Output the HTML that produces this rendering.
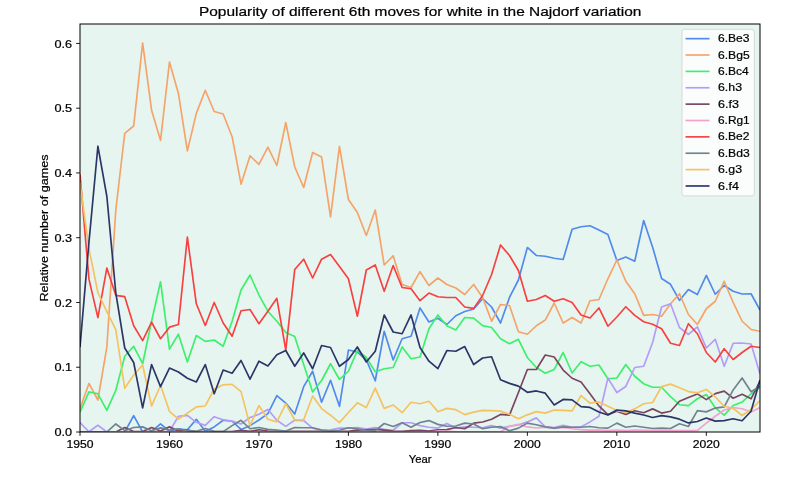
<!DOCTYPE html>
<html><head><meta charset="utf-8"><title>Najdorf 6th moves</title>
<style>html,body{margin:0;padding:0;background:#fff;}body{width:800px;height:480px;overflow:hidden;}svg{display:block;will-change:transform;}text{font-family:"Liberation Sans", sans-serif;fill:#000;stroke:#000;stroke-width:0.22px;}</style></head><body>
<svg width="800" height="480" viewBox="0 0 800 480">
<rect x="0" y="0" width="800" height="480" fill="#ffffff"/>
<rect x="80" y="24" width="680" height="408" fill="#e6f5ef"/>
<clipPath id="c"><rect x="80" y="24" width="680" height="408"/></clipPath>
<g clip-path="url(#c)" fill="none" stroke-width="1.67" stroke-linejoin="round" stroke-linecap="butt">
<polyline stroke="#518aec" points="80.00,432.00 88.95,432.00 97.89,432.00 106.84,432.00 115.79,432.00 124.74,432.00 133.68,415.62 142.63,432.00 151.58,431.35 160.53,423.78 169.47,431.35 178.42,429.02 187.37,429.73 196.32,419.37 205.26,431.35 214.21,426.88 223.16,420.28 232.11,421.25 241.05,429.41 250.00,425.65 258.95,420.02 267.89,413.67 276.84,395.60 285.79,403.12 294.74,414.00 303.68,386.67 312.63,371.25 321.58,402.21 330.53,380.32 339.47,406.35 348.42,350.01 357.37,352.02 366.32,359.98 375.26,380.77 384.21,331.23 393.16,359.98 402.11,338.74 411.05,336.22 420.00,307.98 428.95,321.97 437.89,318.28 446.84,324.50 455.79,315.75 464.74,311.54 473.68,308.95 482.63,298.72 491.58,307.01 500.53,323.01 509.47,297.49 518.42,280.00 527.37,247.49 536.32,255.46 545.26,256.24 554.21,258.24 563.16,259.47 572.11,229.23 581.05,226.77 590.00,225.73 598.95,230.01 607.89,234.48 616.84,260.51 625.79,257.01 634.74,261.22 643.68,220.49 652.63,247.23 661.58,278.51 670.53,284.28 679.47,300.47 688.42,289.52 697.37,294.51 706.32,275.47 715.26,294.25 724.21,285.51 733.16,291.27 742.11,293.99 751.05,293.73 760.00,309.99"/>
<polyline stroke="#f6a369" points="80.00,408.69 88.95,383.43 97.89,400.01 106.84,347.16 115.79,210.00 124.74,133.45 133.68,126.00 142.63,42.98 151.58,110.26 160.53,140.38 169.47,62.02 178.42,93.49 187.37,150.93 196.32,113.37 205.26,90.25 214.21,111.49 223.16,114.02 232.11,136.69 241.05,184.22 250.00,155.73 258.95,164.47 267.89,147.05 276.84,165.50 285.79,122.50 294.74,166.99 303.68,187.46 312.63,152.49 321.58,157.02 330.53,216.99 339.47,146.27 348.42,199.50 357.37,212.46 366.32,235.51 375.26,210.00 384.21,264.98 393.16,255.72 402.11,284.47 411.05,287.52 420.00,271.71 428.95,285.51 437.89,278.00 446.84,284.47 455.79,287.97 464.74,294.51 473.68,284.47 482.63,297.49 491.58,321.26 500.53,304.48 509.47,305.52 518.42,331.75 527.37,334.27 536.32,325.73 545.26,320.03 554.21,302.99 563.16,323.01 572.11,317.50 581.05,323.01 590.00,300.73 598.95,299.50 607.89,278.77 616.84,259.99 625.79,281.23 634.74,293.73 643.68,315.43 652.63,314.52 661.58,316.27 670.53,303.77 679.47,293.73 688.42,314.52 697.37,324.50 706.32,308.76 715.26,301.25 724.21,281.23 733.16,302.48 742.11,321.26 751.05,329.48 760.00,331.23"/>
<polyline stroke="#3cf06c" points="80.00,412.25 88.95,391.91 97.89,393.79 106.84,410.43 115.79,390.29 124.74,356.23 133.68,346.26 142.63,363.74 151.58,321.26 160.53,281.75 169.47,349.10 178.42,334.21 187.37,362.06 196.32,335.50 205.26,341.33 214.21,340.04 223.16,346.26 232.11,321.26 241.05,289.98 250.00,275.02 258.95,295.03 267.89,311.22 276.84,321.26 285.79,332.53 294.74,336.61 303.68,364.52 312.63,391.91 321.58,380.51 330.53,363.74 339.47,379.48 348.42,371.25 357.37,350.53 366.32,357.52 375.26,371.77 384.21,368.73 393.16,367.50 402.11,346.97 411.05,358.75 420.00,357.01 428.95,328.77 437.89,314.98 446.84,325.79 455.79,330.00 464.74,317.50 473.68,318.15 482.63,325.60 491.58,327.47 500.53,338.74 509.47,343.73 518.42,339.26 527.37,357.52 536.32,367.50 545.26,373.26 554.21,369.50 563.16,352.47 572.11,373.00 581.05,361.73 590.00,366.27 598.95,364.97 607.89,378.77 616.84,377.99 625.79,364.52 634.74,376.24 643.68,383.75 652.63,387.25 661.58,387.25 670.53,396.58 679.47,404.74 688.42,405.58 697.37,398.78 706.32,394.57 715.26,407.78 724.21,415.10 733.16,405.45 742.11,402.02 751.05,393.79 760.00,387.51"/>
<polyline stroke="#b39cf8" points="80.00,422.48 88.95,431.74 97.89,425.26 106.84,432.00 115.79,432.00 124.74,432.00 133.68,432.00 142.63,432.00 151.58,432.00 160.53,432.00 169.47,431.35 178.42,416.26 187.37,415.36 196.32,422.29 205.26,425.39 214.21,416.72 223.16,419.70 232.11,421.12 241.05,423.97 250.00,417.49 258.95,414.19 267.89,409.46 276.84,420.28 285.79,426.37 294.74,420.15 303.68,420.67 312.63,428.11 321.58,430.06 330.53,429.73 339.47,428.11 348.42,428.11 357.37,427.47 366.32,429.02 375.26,427.47 384.21,429.41 393.16,430.25 402.11,422.74 411.05,422.74 420.00,425.65 428.95,427.27 437.89,428.11 446.84,423.52 455.79,428.11 464.74,426.88 473.68,427.27 482.63,427.73 491.58,425.65 500.53,428.11 509.47,426.24 518.42,425.01 527.37,421.90 536.32,417.88 545.26,426.88 554.21,427.47 563.16,425.26 572.11,427.27 581.05,426.88 590.00,421.90 598.95,416.26 607.89,378.12 616.84,392.50 625.79,386.47 634.74,367.50 643.68,366.27 652.63,342.50 661.58,307.01 670.53,303.77 679.47,327.47 688.42,334.47 697.37,326.89 706.32,348.00 715.26,339.26 724.21,366.27 733.16,343.28 742.11,343.02 751.05,343.99 760.00,373.71"/>
<polyline stroke="#7a4560" points="80.00,432.00 88.95,432.00 97.89,432.00 106.84,432.00 115.79,432.00 124.74,427.47 133.68,431.48 142.63,431.48 151.58,427.47 160.53,431.03 169.47,426.88 178.42,431.03 187.37,430.06 196.32,431.68 205.26,431.68 214.21,431.68 223.16,431.68 232.11,431.68 241.05,430.25 250.00,431.35 258.95,429.73 267.89,431.03 276.84,431.35 285.79,431.35 294.74,431.35 303.68,431.35 312.63,431.35 321.58,431.35 330.53,431.35 339.47,431.35 348.42,431.35 357.37,430.06 366.32,429.73 375.26,429.41 384.21,430.06 393.16,431.03 402.11,431.35 411.05,430.70 420.00,430.25 428.95,431.03 437.89,429.73 446.84,429.60 455.79,427.47 464.74,428.76 473.68,423.19 482.63,421.96 491.58,419.18 500.53,414.45 509.47,415.10 518.42,392.50 527.37,369.50 536.32,369.50 545.26,355.00 554.21,357.01 563.16,370.02 572.11,378.25 581.05,381.94 590.00,393.79 598.95,405.97 607.89,414.64 616.84,411.28 625.79,414.45 634.74,410.76 643.68,412.70 652.63,408.88 661.58,413.09 670.53,411.28 679.47,401.24 688.42,397.48 697.37,393.92 706.32,399.62 715.26,393.66 724.21,391.14 733.16,398.26 742.11,394.24 751.05,398.78 760.00,381.23"/>
<polyline stroke="#f3a2cd" points="80.00,432.00 88.95,432.00 97.89,432.00 106.84,432.00 115.79,432.00 124.74,432.00 133.68,432.00 142.63,432.00 151.58,432.00 160.53,432.00 169.47,432.00 178.42,432.00 187.37,432.00 196.32,432.00 205.26,432.00 214.21,432.00 223.16,432.00 232.11,432.00 241.05,432.00 250.00,432.00 258.95,432.00 267.89,432.00 276.84,432.00 285.79,432.00 294.74,432.00 303.68,432.00 312.63,432.00 321.58,432.00 330.53,432.00 339.47,432.00 348.42,432.00 357.37,432.00 366.32,432.00 375.26,432.00 384.21,432.00 393.16,432.00 402.11,432.00 411.05,432.00 420.00,432.00 428.95,432.00 437.89,431.22 446.84,431.03 455.79,431.74 464.74,431.81 473.68,431.81 482.63,431.81 491.58,431.81 500.53,432.00 509.47,426.24 518.42,424.42 527.37,426.95 536.32,427.98 545.26,427.08 554.21,428.37 563.16,427.34 572.11,428.76 581.05,429.60 590.00,430.06 598.95,430.06 607.89,430.70 616.84,430.06 625.79,430.70 634.74,430.06 643.68,430.38 652.63,430.70 661.58,430.70 670.53,430.70 679.47,430.70 688.42,430.70 697.37,430.32 706.32,423.06 715.26,416.26 724.21,409.98 733.16,407.52 742.11,408.75 751.05,411.99 760.00,407.52"/>
<polyline stroke="#f84040" points="80.00,174.25 88.95,279.16 97.89,317.63 106.84,268.09 115.79,295.35 124.74,296.65 133.68,325.79 142.63,340.56 151.58,322.23 160.53,338.74 169.47,327.15 178.42,324.50 187.37,237.07 196.32,303.77 205.26,325.47 214.21,302.48 223.16,323.01 232.11,336.22 241.05,310.77 250.00,309.47 258.95,323.72 267.89,311.22 276.84,298.33 285.79,350.01 294.74,269.45 303.68,259.22 312.63,278.00 321.58,259.22 330.53,254.49 339.47,266.47 348.42,278.77 357.37,316.27 366.32,269.97 375.26,264.98 384.21,291.27 393.16,265.50 402.11,287.52 411.05,288.75 420.00,300.73 428.95,293.02 437.89,296.78 446.84,297.49 455.79,297.49 464.74,307.01 473.68,308.37 482.63,295.48 491.58,274.50 500.53,244.97 509.47,255.46 518.42,270.48 527.37,301.25 536.32,299.50 545.26,295.48 554.21,301.25 563.16,298.72 572.11,302.48 581.05,314.98 590.00,318.02 598.95,307.98 607.89,326.24 616.84,316.98 625.79,306.75 634.74,315.43 643.68,321.78 652.63,324.24 661.58,328.77 670.53,343.28 679.47,345.48 688.42,323.72 697.37,333.76 706.32,352.47 715.26,361.99 724.21,348.72 733.16,359.47 742.11,352.47 751.05,346.26 760.00,347.49"/>
<polyline stroke="#70838f" points="80.00,432.00 88.95,432.00 97.89,432.00 106.84,432.00 115.79,423.97 124.74,430.70 133.68,427.47 142.63,426.88 151.58,430.70 160.53,427.86 169.47,430.06 178.42,428.76 187.37,430.70 196.32,431.35 205.26,428.50 214.21,431.35 223.16,431.68 232.11,425.65 241.05,420.28 250.00,428.76 258.95,427.47 267.89,429.41 276.84,430.06 285.79,431.03 294.74,427.47 303.68,427.73 312.63,427.73 321.58,430.06 330.53,431.03 339.47,430.25 348.42,427.73 357.37,428.89 366.32,430.25 375.26,430.70 384.21,423.52 393.16,426.50 402.11,422.74 411.05,427.27 420.00,422.48 428.95,420.60 437.89,424.36 446.84,426.24 455.79,425.98 464.74,423.13 473.68,423.97 482.63,428.76 491.58,427.27 500.53,426.62 509.47,430.70 518.42,428.11 527.37,423.13 536.32,424.75 545.26,426.88 554.21,428.11 563.16,426.88 572.11,427.27 581.05,427.27 590.00,426.50 598.95,427.73 607.89,428.11 616.84,423.13 625.79,427.27 634.74,425.98 643.68,427.27 652.63,428.50 661.58,428.11 670.53,428.50 679.47,423.78 688.42,426.50 697.37,410.63 706.32,411.86 715.26,408.10 724.21,406.87 733.16,389.97 742.11,377.99 751.05,391.72 760.00,386.28"/>
<polyline stroke="#f6c260" points="80.00,182.67 88.95,248.72 97.89,292.50 106.84,311.54 115.79,329.68 124.74,388.29 133.68,375.01 142.63,364.97 151.58,406.10 160.53,385.24 169.47,411.28 178.42,419.18 187.37,413.15 196.32,406.94 205.26,405.97 214.21,389.26 223.16,384.85 232.11,384.27 241.05,391.65 250.00,425.52 258.95,405.58 267.89,419.31 276.84,421.90 285.79,403.76 294.74,420.02 303.68,419.82 312.63,395.93 321.58,408.56 330.53,415.23 339.47,422.67 348.42,412.51 357.37,402.86 366.32,407.52 375.26,388.09 384.21,408.36 393.16,404.99 402.11,412.70 411.05,402.21 420.00,403.76 428.95,401.24 437.89,411.66 446.84,408.36 455.79,409.66 464.74,414.64 473.68,412.18 482.63,410.43 491.58,410.69 500.53,411.15 509.47,414.19 518.42,418.72 527.37,414.84 536.32,411.60 545.26,413.15 554.21,409.98 563.16,410.43 572.11,410.89 581.05,395.54 590.00,403.05 598.95,401.95 607.89,406.22 616.84,410.56 625.79,412.18 634.74,408.88 643.68,403.76 652.63,402.47 661.58,386.67 670.53,384.14 679.47,387.83 688.42,391.59 697.37,392.82 706.32,389.45 715.26,396.90 724.21,406.22 733.16,408.23 742.11,415.49 751.05,409.53 760.00,400.53"/>
<polyline stroke="#2c3568" points="80.00,347.16 88.95,242.25 97.89,146.21 106.84,196.27 115.79,292.76 124.74,348.00 133.68,362.51 142.63,407.91 151.58,364.52 160.53,386.67 169.47,368.02 178.42,372.03 187.37,378.25 196.32,382.00 205.26,364.52 214.21,393.79 223.16,370.02 232.11,373.26 241.05,360.50 250.00,379.22 258.95,361.22 267.89,365.94 276.84,354.74 285.79,350.53 294.74,366.27 303.68,352.99 312.63,368.73 321.58,345.48 330.53,347.49 339.47,366.27 348.42,359.47 357.37,346.97 366.32,361.99 375.26,351.24 384.21,314.98 393.16,332.01 402.11,333.76 411.05,314.98 420.00,347.49 428.95,361.22 437.89,368.73 446.84,350.53 455.79,351.24 464.74,346.51 473.68,364.52 482.63,357.98 491.58,356.75 500.53,379.74 509.47,383.36 518.42,386.15 527.37,392.30 536.32,390.94 545.26,393.14 554.21,404.99 563.16,399.42 572.11,399.88 581.05,406.68 590.00,407.39 598.95,411.92 607.89,414.97 616.84,409.98 625.79,410.89 634.74,413.09 643.68,414.97 652.63,417.49 661.58,415.68 670.53,416.91 679.47,419.18 688.42,422.93 697.37,421.51 706.32,418.01 715.26,421.12 724.21,420.67 733.16,418.72 742.11,420.73 751.05,411.28 760.00,380.00"/>
</g>
<g stroke="#000" stroke-width="0.89" fill="none">
<line x1="80.00" y1="432" x2="80.00" y2="435.89"/>
<line x1="169.47" y1="432" x2="169.47" y2="435.89"/>
<line x1="258.95" y1="432" x2="258.95" y2="435.89"/>
<line x1="348.42" y1="432" x2="348.42" y2="435.89"/>
<line x1="437.89" y1="432" x2="437.89" y2="435.89"/>
<line x1="527.37" y1="432" x2="527.37" y2="435.89"/>
<line x1="616.84" y1="432" x2="616.84" y2="435.89"/>
<line x1="706.32" y1="432" x2="706.32" y2="435.89"/>
<line x1="76.11" y1="432.00" x2="80" y2="432.00"/>
<line x1="76.11" y1="367.24" x2="80" y2="367.24"/>
<line x1="76.11" y1="302.48" x2="80" y2="302.48"/>
<line x1="76.11" y1="237.71" x2="80" y2="237.71"/>
<line x1="76.11" y1="172.95" x2="80" y2="172.95"/>
<line x1="76.11" y1="108.19" x2="80" y2="108.19"/>
<line x1="76.11" y1="43.43" x2="80" y2="43.43"/>
</g>
<rect x="80" y="24" width="680" height="408" fill="none" stroke="#000" stroke-width="1.0"/>
<text x="80.00" y="447.9" font-size="11.3" text-anchor="middle" textLength="27.0" lengthAdjust="spacingAndGlyphs">1950</text>
<text x="169.47" y="447.9" font-size="11.3" text-anchor="middle" textLength="27.0" lengthAdjust="spacingAndGlyphs">1960</text>
<text x="258.95" y="447.9" font-size="11.3" text-anchor="middle" textLength="27.0" lengthAdjust="spacingAndGlyphs">1970</text>
<text x="348.42" y="447.9" font-size="11.3" text-anchor="middle" textLength="27.0" lengthAdjust="spacingAndGlyphs">1980</text>
<text x="437.89" y="447.9" font-size="11.3" text-anchor="middle" textLength="27.0" lengthAdjust="spacingAndGlyphs">1990</text>
<text x="527.37" y="447.9" font-size="11.3" text-anchor="middle" textLength="27.0" lengthAdjust="spacingAndGlyphs">2000</text>
<text x="616.84" y="447.9" font-size="11.3" text-anchor="middle" textLength="27.0" lengthAdjust="spacingAndGlyphs">2010</text>
<text x="706.32" y="447.9" font-size="11.3" text-anchor="middle" textLength="27.0" lengthAdjust="spacingAndGlyphs">2020</text>
<text x="72.2" y="436.10" font-size="11.3" text-anchor="end" textLength="17.67" lengthAdjust="spacingAndGlyphs">0.0</text>
<text x="72.2" y="371.34" font-size="11.3" text-anchor="end" textLength="17.67" lengthAdjust="spacingAndGlyphs">0.1</text>
<text x="72.2" y="306.58" font-size="11.3" text-anchor="end" textLength="17.67" lengthAdjust="spacingAndGlyphs">0.2</text>
<text x="72.2" y="241.81" font-size="11.3" text-anchor="end" textLength="17.67" lengthAdjust="spacingAndGlyphs">0.3</text>
<text x="72.2" y="177.05" font-size="11.3" text-anchor="end" textLength="17.67" lengthAdjust="spacingAndGlyphs">0.4</text>
<text x="72.2" y="112.29" font-size="11.3" text-anchor="end" textLength="17.67" lengthAdjust="spacingAndGlyphs">0.5</text>
<text x="72.2" y="47.53" font-size="11.3" text-anchor="end" textLength="17.67" lengthAdjust="spacingAndGlyphs">0.6</text>
<text x="420.2" y="463.1" font-size="11.3" text-anchor="middle" textLength="22.8" lengthAdjust="spacingAndGlyphs">Year</text>
<text transform="translate(48.2,228) rotate(-90)" font-size="11.3" text-anchor="middle" textLength="147" lengthAdjust="spacingAndGlyphs">Relative number of games</text>
<text x="420.2" y="16.25" font-size="13.5" text-anchor="middle" textLength="442.5" lengthAdjust="spacingAndGlyphs">Popularity of different 6th moves for white in the Najdorf variation</text>
<rect x="682" y="29.3" width="72.3" height="166.6" rx="2.2" ry="2.2" fill="#ffffff" fill-opacity="0.8" stroke="#cccccc" stroke-opacity="0.8" stroke-width="0.89"/>
<line x1="686.4" y1="38.65" x2="708.7" y2="38.65" stroke="#518aec" stroke-width="1.67" stroke-linecap="square"/>
<text x="718.0" y="42.20" font-size="11.3" textLength="31.43" lengthAdjust="spacingAndGlyphs">6.Be3</text>
<line x1="686.4" y1="55.02" x2="708.7" y2="55.02" stroke="#f6a369" stroke-width="1.67" stroke-linecap="square"/>
<text x="718.0" y="58.57" font-size="11.3" textLength="31.64" lengthAdjust="spacingAndGlyphs">6.Bg5</text>
<line x1="686.4" y1="71.39" x2="708.7" y2="71.39" stroke="#3cf06c" stroke-width="1.67" stroke-linecap="square"/>
<text x="718.0" y="74.94" font-size="11.3" textLength="30.70" lengthAdjust="spacingAndGlyphs">6.Bc4</text>
<line x1="686.4" y1="87.76" x2="708.7" y2="87.76" stroke="#b39cf8" stroke-width="1.67" stroke-linecap="square"/>
<text x="718.0" y="91.31" font-size="11.3" textLength="24.00" lengthAdjust="spacingAndGlyphs">6.h3</text>
<line x1="686.4" y1="104.13" x2="708.7" y2="104.13" stroke="#7a4560" stroke-width="1.67" stroke-linecap="square"/>
<text x="718.0" y="107.68" font-size="11.3" textLength="20.88" lengthAdjust="spacingAndGlyphs">6.f3</text>
<line x1="686.4" y1="120.50" x2="708.7" y2="120.50" stroke="#f3a2cd" stroke-width="1.67" stroke-linecap="square"/>
<text x="718.0" y="124.05" font-size="11.3" textLength="31.74" lengthAdjust="spacingAndGlyphs">6.Rg1</text>
<line x1="686.4" y1="136.87" x2="708.7" y2="136.87" stroke="#f84040" stroke-width="1.67" stroke-linecap="square"/>
<text x="718.0" y="140.42" font-size="11.3" textLength="31.43" lengthAdjust="spacingAndGlyphs">6.Be2</text>
<line x1="686.4" y1="153.24" x2="708.7" y2="153.24" stroke="#70838f" stroke-width="1.67" stroke-linecap="square"/>
<text x="718.0" y="156.79" font-size="11.3" textLength="31.64" lengthAdjust="spacingAndGlyphs">6.Bd3</text>
<line x1="686.4" y1="169.61" x2="708.7" y2="169.61" stroke="#f6c260" stroke-width="1.67" stroke-linecap="square"/>
<text x="718.0" y="173.16" font-size="11.3" textLength="24.02" lengthAdjust="spacingAndGlyphs">6.g3</text>
<line x1="686.4" y1="185.98" x2="708.7" y2="185.98" stroke="#2c3568" stroke-width="1.67" stroke-linecap="square"/>
<text x="718.0" y="189.53" font-size="11.3" textLength="20.88" lengthAdjust="spacingAndGlyphs">6.f4</text>
</svg></body></html>
